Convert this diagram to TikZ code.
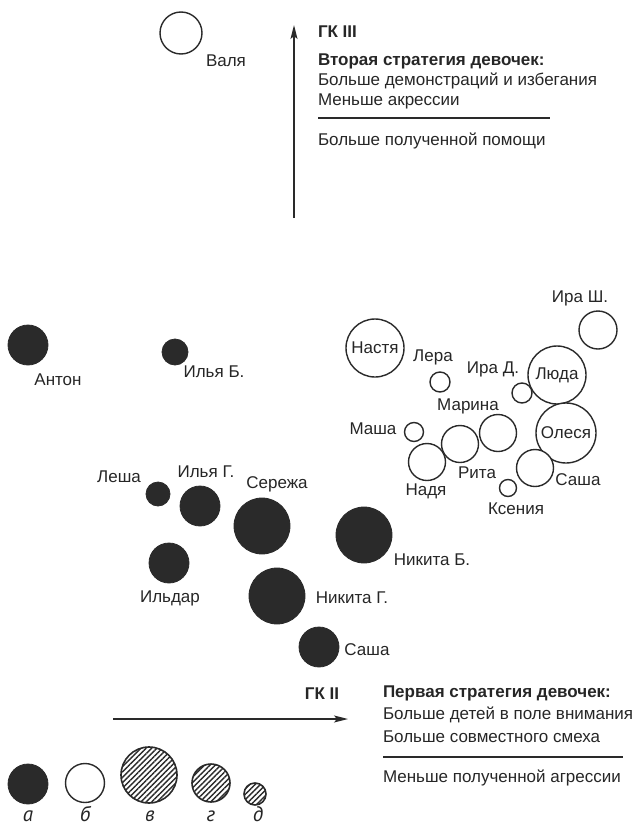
\documentclass[tikz,border=0pt]{standalone}
\usepackage{fontspec}
\setmainfont{Liberation Sans}
\newfontfamily\italfont{PT Sans}
\usetikzlibrary{arrows.meta,patterns.meta}
\definecolor{ink}{HTML}{2A2A2A}
\definecolor{txt}{HTML}{262626}
\begin{document}
\begin{tikzpicture}[x=1pt,y=-1pt,
  every node/.style={text=txt, font=\fontsize{17}{20}\selectfont, inner sep=0pt, outer sep=0pt},
  boy/.style={circle, fill=ink, draw=ink, line width=0.8pt, minimum size=#1},
  girl/.style={circle, draw=ink, fill=white, line width=1.4pt, minimum size=#1},
  hatched/.style={circle, draw=ink, line width=1.6pt, minimum size=#1,
    pattern={Lines[angle=45,distance=3.8pt,line width=1.4pt]}, pattern color=ink},
  lbl/.style={anchor=mid, yshift=-2.5pt},
  lblw/.style={anchor=mid west, yshift=-2.5pt},
  heading/.style={anchor=mid west, yshift=-2.5pt, font=\fontsize{17}{20}\selectfont\bfseries},
  axis/.style={line width=1.5pt, draw=ink, -{Stealth[length=14pt,width=7pt,inset=3pt]}},
  rule/.style={line width=2.4pt, draw=ink},
  leg/.style={anchor=mid, yshift=-2pt, font=\fontsize{21}{24}\selectfont\italfont\itshape}
]
\useasboundingbox (0,0) rectangle (638,830);

% ---- vertical axis and its text ----
\coordinate (vbot) at (294,218);
\coordinate (vtop) at (294,25);
\draw[axis] (vbot) -- (vtop);
\node[heading] (gk3) at (318,32) {ГК III};
\node[heading] (strat2) at (318,60) {Вторая стратегия девочек:};
\node[lblw] (t2a) at (318,80) {Больше демонстраций и избегания};
\node[lblw] (t2b) at (318,100) {Меньше акрессии};
\coordinate (r2l) at (318,118);
\coordinate (r2r) at (550,118);
\draw[rule] (r2l) -- (r2r);
\node[lblw] (t2c) at (318,140) {Больше полученной помощи};

% ---- Валя ----
\node[girl=42pt] (valya) at (181,33) {};
\node[lbl] (valyaL) at (226,61) {Валя};

% ---- boys ----
\node[boy=40pt] (anton) at (28,345) {};
\node[lbl] (antonL) at (58,380) {Антон};
\node[boy=26pt] (ilyab) at (175,352) {};
\node[lbl] (ilyabL) at (214,372) {Илья Б.};
\node[boy=24pt] (lesha) at (158,494) {};
\node[lbl] (leshaL) at (119,477) {Леша};
\node[boy=40pt] (ilyag) at (200,506) {};
\node[lbl] (ilyagL) at (206,472) {Илья Г.};
\node[boy=56pt] (serezha) at (262,526) {};
\node[lbl] (serezhaL) at (277,483) {Сережа};
\node[boy=56pt] (nikitab) at (364,535) {};
\node[lbl] (nikitabL) at (432,560) {Никита Б.};
\node[boy=40pt] (ildar) at (169,563) {};
\node[lbl] (ildarL) at (170,597) {Ильдар};
\node[boy=56pt] (nikitag) at (277,596) {};
\node[lbl] (nikitagL) at (352,598) {Никита Г.};
\node[boy=40pt] (sashab) at (319,647) {};
\node[lbl] (sashabL) at (367,650) {Саша};

% ---- girls ----
\node[girl=58pt] (nastya) at (375,348) {Настя};
\node[girl=38pt] (irash) at (598,330) {};
\node[lbl] (irashL) at (580,297) {Ира Ш.};
\node[girl=20pt] (lera) at (440,382) {};
\node[lbl] (leraL) at (433,356) {Лера};
\node[girl=20pt] (irad) at (522,393) {};
\node[lbl] (iradL) at (493,368) {Ира Д.};
\node[girl=58pt] (lyuda) at (557,375) {Люда};
\node[girl=60pt] (olesya) at (566,433) {Олеся};
\node[girl=37pt] (marina) at (498,433) {};
\node[lbl] (marinaL) at (468,405) {Марина};
\node[girl=37pt] (rita) at (460,444) {};
\node[lbl] (ritaL) at (477,473) {Рита};
\node[girl=19pt] (masha) at (414,432) {};
\node[lbl] (mashaL) at (373,429) {Маша};
\node[girl=37pt] (nadya) at (427,462) {};
\node[lbl] (nadyaL) at (426,490) {Надя};
\node[girl=37pt] (sashag) at (535,468) {};
\node[lbl] (sashagL) at (578,480) {Саша};
\node[girl=17pt] (ksenia) at (508,488) {};
\node[lbl] (kseniaL) at (516,509) {Ксения};

% ---- horizontal axis and its text ----
\node[lbl, font=\fontsize{17}{20}\selectfont\bfseries] (gk2) at (322,694) {ГК II};
\coordinate (hl) at (113,719);
\coordinate (hr) at (348,719);
\draw[axis] (hl) -- (hr);
\node[heading] (strat1) at (383,692) {Первая стратегия девочек:};
\node[lblw] (t1a) at (383,714) {Больше детей в поле внимания};
\node[lblw] (t1b) at (383,737) {Больше совместного смеха};
\coordinate (r1l) at (383,757);
\coordinate (r1r) at (623,757);
\draw[rule] (r1l) -- (r1r);
\node[lblw] (t1c) at (383,777) {Меньше полученной агрессии};

% ---- legend ----
\node[boy=40pt] (la) at (28,784) {};
\node[girl=39pt] (lb) at (85,783) {};
\node[hatched=56pt] (lv) at (149,775) {};
\node[hatched=38pt] (lg) at (211,783) {};
\node[hatched=22pt] (ld) at (255,794) {};
\node[leg] (laL) at (28,817) {а};
\node[leg] (lbL) at (85,817) {б};
\node[leg] (lvL) at (150,817) {в};
\node[leg] (lgL) at (211,817) {г};
\node[leg] (ldL) at (258,817) {д};
\end{tikzpicture}
\end{document}
